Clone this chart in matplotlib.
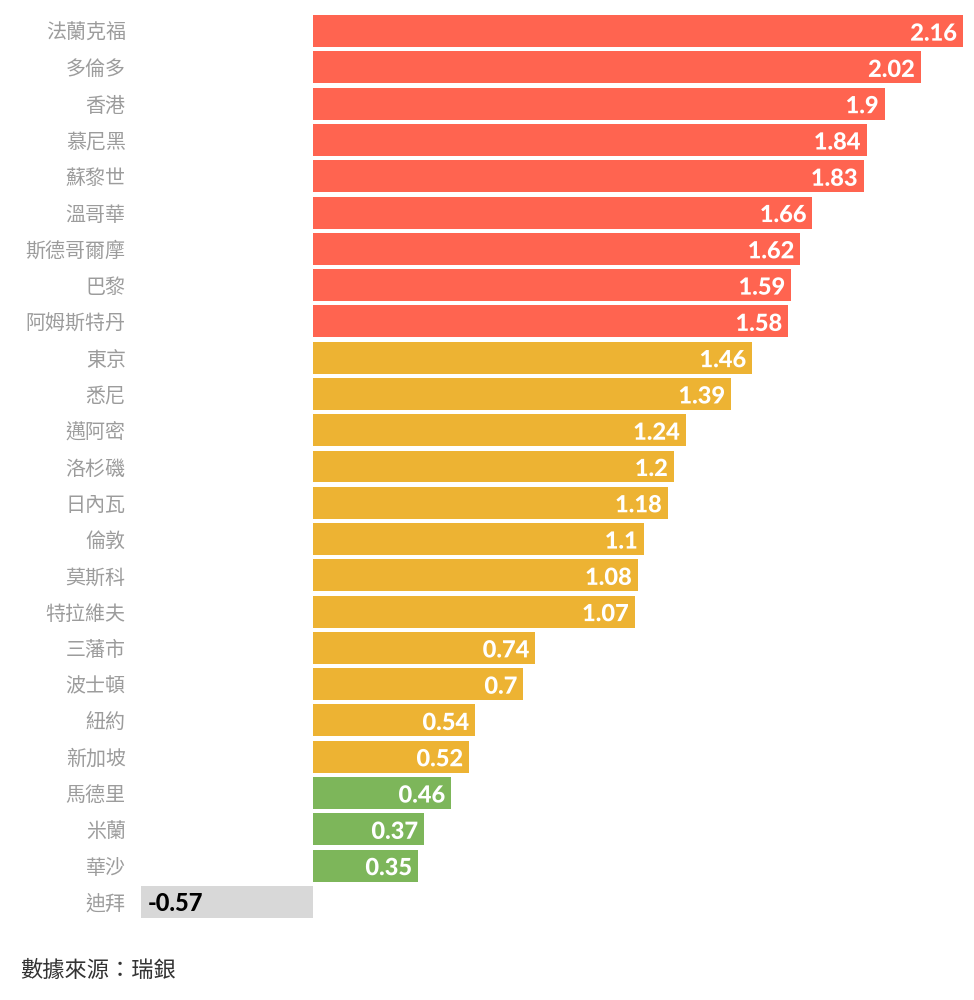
import matplotlib.pyplot as plt
import matplotlib.patheffects as pe

# data
cities = ['法蘭克福', '多倫多', '香港', '慕尼黑', '蘇黎世', '溫哥華', '斯德哥爾摩', '巴黎',
          '阿姆斯特丹', '東京', '悉尼', '邁阿密', '洛杉磯', '日內瓦', '倫敦', '莫斯科',
          '特拉維夫', '三藩市', '波士頓', '紐約', '新加坡', '馬德里', '米蘭', '華沙', '迪拜']
values = [2.16, 2.02, 1.9, 1.84, 1.83, 1.66, 1.62, 1.59, 1.58, 1.46, 1.39, 1.24, 1.2,
          1.18, 1.1, 1.08, 1.07, 0.74, 0.7, 0.54, 0.52, 0.46, 0.37, 0.35, -0.57]
labels = ['2.16', '2.02', '1.9', '1.84', '1.83', '1.66', '1.62', '1.59', '1.58', '1.46',
          '1.39', '1.24', '1.2', '1.18', '1.1', '1.08', '1.07', '0.74', '0.7', '0.54',
          '0.52', '0.46', '0.37', '0.35', '-0.57']

RED, ORANGE, GREEN, GREY = '#FF6450', '#EDB333', '#7DB65A', '#D8D8D8'

def bar_colour(v):
    if v < 0:
        return GREY
    if v < 0.5:
        return GREEN
    if v < 1.5:
        return ORANGE
    return RED

colours = [bar_colour(v) for v in values]

plt.rcParams['font.family'] = ['Noto Sans CJK TC', 'DejaVu Sans']

fig = plt.figure(figsize=(9.74, 10), dpi=100)
ax = fig.add_axes([141 / 974, 80 / 1000, 822 / 974, 907 / 1000])

y = list(range(len(cities)))
ax.barh(y, values, height=0.88, color=colours, edgecolor='none')
ax.set_xlim(-0.57, 2.16)
ax.set_ylim(len(cities) - 0.5, -0.5)

ax.set_yticks(y)
ax.set_yticklabels(cities, fontsize=14.4, color='#9c9c9c')
ax.tick_params(axis='y', length=0, pad=11)
ax.set_xticks([])
for s in ax.spines.values():
    s.set_visible(False)

num_font = ['Lato', 'DejaVu Sans']
for yi, v, lab, c in zip(y, values, labels, colours):
    if v >= 0:
        ax.annotate(lab, (v, yi), xytext=(-6, -2), textcoords='offset pixels',
                    ha='right', va='center', fontsize=17, fontweight='black',
                    family=num_font, color='white',
                    path_effects=[pe.withStroke(linewidth=3, foreground=c)])
    else:
        ax.annotate(lab, (v, yi), xytext=(7, -2), textcoords='offset pixels',
                    ha='left', va='center', fontsize=17, fontweight='black',
                    family=num_font, color='black')

fig.text(20 / 974, 1 - 970 / 1000, '數據來源：瑞銀', fontsize=16, color='#333333',
         fontweight='medium', ha='left', va='center')

fig.savefig('out.png', dpi=100)
